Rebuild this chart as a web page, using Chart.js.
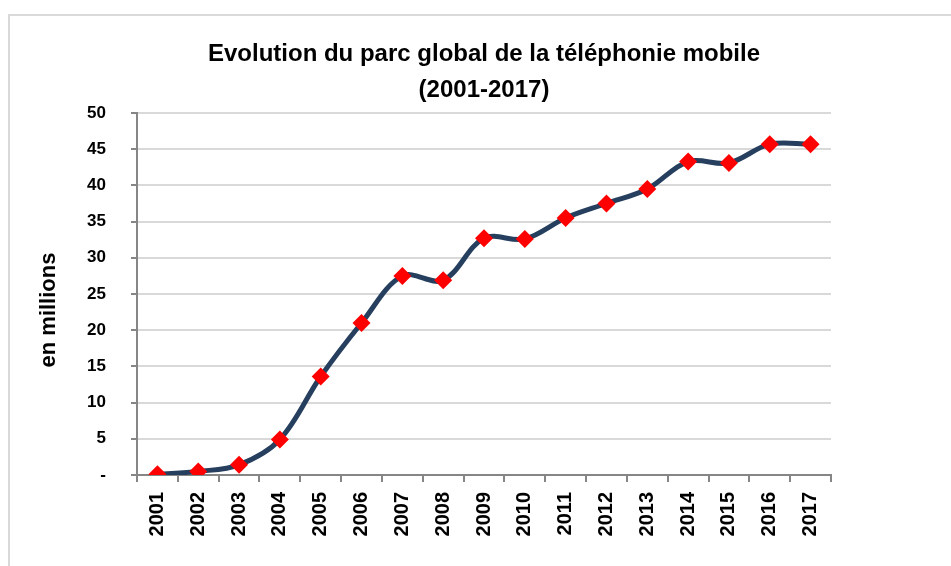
<!DOCTYPE html>
<html>
<head>
<meta charset="utf-8">
<script src="https://cdn.jsdelivr.net/npm/chart.js@4/dist/chart.umd.min.js"></script>
<style>
  html, body { margin: 0; padding: 0; background: #fff; }
  #wrap { position: relative; width: 951px; height: 566px; }
</style>
</head>
<body>
<div id="wrap"><canvas id="chart1"></canvas></div>
<script>
// Data
var years = ['2001', '2002', '2003', '2004', '2005', '2006', '2007', '2008', '2009',
             '2010', '2011', '2012', '2013', '2014', '2015', '2016', '2017'];
var parcMobile = [0.1, 0.5, 1.4, 4.9, 13.6, 21.0, 27.5, 26.9, 32.7,
                  32.6, 35.5, 37.5, 39.5, 43.3, 43.1, 45.7, 45.7];
var yTickLabels = ['-', '5', '10', '15', '20', '25', '30', '35', '40', '45', '50'];
var yTitle = 'en millions';

var FONT = "'Liberation Sans', Arial, sans-serif";

// light grey frame around the chart + y axis title (sits a bit below centre)
var framePlugin = {
    id: 'frame',
    beforeDraw: function (chart) {
        var ctx = chart.ctx;
        ctx.save();
        ctx.fillStyle = '#fff';
        ctx.fillRect(0, 0, chart.width, chart.height);
        ctx.strokeStyle = '#d9d9d9';
        ctx.lineWidth = 2;
        ctx.strokeRect(9, 15, 1200, 1200);
        ctx.restore();
    },
    afterDraw: function (chart) {
        var ctx = chart.ctx;
        var area = chart.chartArea;
        ctx.save();
        ctx.translate(49, (area.top + area.bottom) / 2 + 16);
        ctx.rotate(-Math.PI / 2);
        ctx.fillStyle = '#000';
        ctx.font = 'bold 22px ' + FONT;
        ctx.textAlign = 'center';
        ctx.textBaseline = 'middle';
        ctx.fillText(yTitle, 0, 0);
        ctx.restore();
    }
};

var config1 = {
    type: 'line',
    data: {
        labels: years,
        datasets: [{
            label: 'Parc global',
            data: parcMobile,
            borderColor: '#263f5e',
            borderWidth: 5,
            tension: 0.35,
            pointStyle: 'rectRot',
            pointRadius: 9,
            pointHoverRadius: 9,
            pointBackgroundColor: '#ff0000',
            pointBorderColor: '#ff0000',
            pointBorderWidth: 0
        }]
    },
    options: {
        responsive: true,
        maintainAspectRatio: false,
        animation: false,
        layout: { padding: { left: 10, right: 120, top: 0, bottom: 0 } },
        plugins: {
            legend: { display: false },
            tooltip: { enabled: false },
            title: {
                display: true,
                fullSize: false,
                text: ['Evolution du parc global de la téléphonie mobile', '(2001-2017)'],
                color: '#000',
                font: { family: FONT, size: 24, weight: 'bold', lineHeight: 1.5 },
                padding: { top: 36, bottom: 5 }
            }
        },
        scales: {
            x: {
                offset: true,
                grid: {
                    offset: true,
                    drawOnChartArea: false,
                    color: '#868686',
                    lineWidth: 2,
                    tickLength: 7
                },
                border: { display: true, color: '#868686', width: 2 },
                ticks: {
                    color: '#000',
                    maxRotation: 90,
                    minRotation: 90,
                    padding: 10,
                    font: { family: FONT, size: 20, weight: 'bold' }
                },
                afterFit: function (scale) { scale.height = 91; }
            },
            y: {
                min: 0,
                max: 50,
                ticks: {
                    stepSize: 5,
                    color: '#000',
                    padding: 25,
                    font: { family: FONT, size: 17, weight: 'bold' },
                    callback: function (value, index) { return yTickLabels[index]; }
                },
                grid: {
                    color: '#d9d9d9',
                    lineWidth: 2,
                    tickColor: '#868686',
                    tickLength: 6
                },
                border: { display: true, color: '#868686', width: 2 },
                afterFit: function (scale) { scale.width = 127; }
            }
        }
    },
    plugins: [framePlugin]
};

var ctx1 = document.getElementById('chart1').getContext('2d');
new Chart(ctx1, config1);
</script>
</body>
</html>
